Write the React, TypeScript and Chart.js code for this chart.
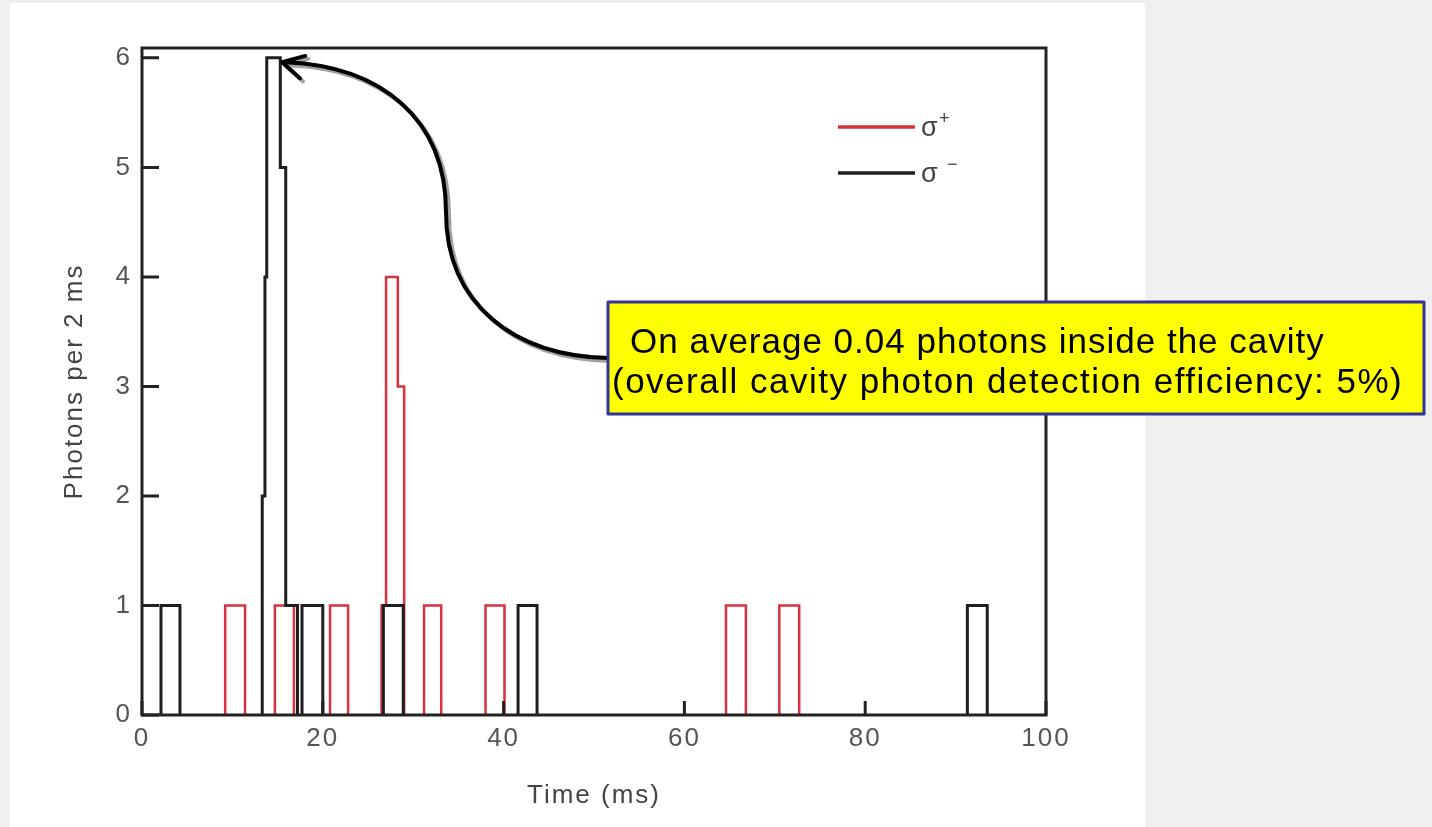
import React, { useEffect, useRef } from 'react';
import { Chart, registerables } from 'chart.js';

Chart.register(...registerables);

// ---------- data ----------
const xTickValues = [0, 20, 40, 60, 80, 100];
const yTickValues = [0, 1, 2, 3, 4, 5, 6];

// sigma+ (red) histogram bins: start (ms), end (ms), photon count
const sigmaPlusStart = [9.2, 14.7, 20.8, 26.5, 27.0, 28.3, 31.2, 38.0, 64.6, 70.5];
const sigmaPlusEnd = [11.4, 16.8, 22.8, 27.0, 28.3, 29.0, 33.1, 40.1, 66.8, 72.7];
const sigmaPlusCount = [1, 1, 1, 1, 4, 3, 1, 1, 1, 1];

// sigma- (black) histogram bins
const sigmaMinusStart = [2.1, 13.3, 13.6, 13.8, 15.3, 15.9, 17.7, 26.7, 41.6, 91.3];
const sigmaMinusEnd = [4.2, 13.6, 13.8, 15.3, 15.9, 17.2, 20.0, 28.9, 43.7, 93.5];
const sigmaMinusCount = [1, 2, 4, 6, 5, 1, 1, 1, 1, 1];

const seriesNames = ['σ+', 'σ−'];
const xTitle = 'Time (ms)';
const yTitle = 'Photons per 2 ms';
const noteLines = [
  'On average 0.04 photons inside the cavity',
  '(overall cavity photon detection efficiency: 5%)',
];
// arrow tip points at the top of the sigma- peak
const arrowTarget = { x: 15.5, y: 5.96 };

const RED = '#d8323e';
const BLACK = '#1e1e1e';
const FONT = '"Liberation Sans", Arial, Helvetica, sans-serif';

function buildSteps(starts: number[], ends: number[], counts: number[]) {
  const pts: { x: number; y: number | null }[] = [];
  for (let i = 0; i < starts.length; i++) {
    const contiguous = i > 0 && Math.abs(starts[i] - ends[i - 1]) < 1e-6;
    if (!contiguous) {
      if (i > 0) {
        pts.push({ x: ends[i - 1], y: 0 });
        pts.push({ x: (ends[i - 1] + starts[i]) / 2, y: null });
      }
      pts.push({ x: starts[i], y: 0 });
    }
    pts.push({ x: starts[i], y: counts[i] });
    pts.push({ x: ends[i], y: counts[i] });
  }
  pts.push({ x: ends[ends.length - 1], y: 0 });
  return pts;
}

const backgroundPlugin = {
  id: 'bg',
  beforeDraw(chart: any) {
    const ctx = chart.ctx as CanvasRenderingContext2D;
    ctx.save();
    ctx.fillStyle = '#efefef';
    ctx.fillRect(0, 0, chart.width, chart.height);
    ctx.fillStyle = '#ffffff';
    ctx.fillRect(10, 3, 1135, chart.height - 3);
    ctx.restore();
    (ctx as any).letterSpacing = '2px';
  },
};

const framePlugin = {
  id: 'frame',
  afterDatasetsDraw(chart: any) {
    const ctx = chart.ctx as CanvasRenderingContext2D;
    const { left, right, top, bottom } = chart.chartArea;
    const xs = chart.scales.x;
    const ys = chart.scales.y;
    ctx.save();
    ctx.strokeStyle = '#222';
    ctx.lineWidth = 3;
    ctx.lineJoin = 'miter';
    ctx.strokeRect(left, top, right - left, bottom - top);
    ctx.beginPath();
    yTickValues.forEach((v) => {
      const y = ys.getPixelForValue(v);
      ctx.moveTo(left, y);
      ctx.lineTo(left + 17, y);
    });
    xTickValues.forEach((v) => {
      const x = xs.getPixelForValue(v);
      ctx.moveTo(x, bottom);
      ctx.lineTo(x, bottom - 14);
    });
    ctx.stroke();
    ctx.restore();
  },
};

const legendPlugin = {
  id: 'customLegend',
  afterDraw(chart: any) {
    const ctx = chart.ctx as CanvasRenderingContext2D;
    const { right, top } = chart.chartArea;
    const x0 = right - 208;
    const x1 = right - 131;
    const rows = [
      { y: top + 79, color: RED, sup: seriesNames[0].slice(1) },
      { y: top + 125, color: BLACK, sup: seriesNames[1].slice(1) },
    ];
    ctx.save();
    (ctx as any).letterSpacing = '0px';
    rows.forEach((r) => {
      ctx.strokeStyle = r.color;
      ctx.lineWidth = 3.5;
      ctx.beginPath();
      ctx.moveTo(x0, r.y);
      ctx.lineTo(x1, r.y);
      ctx.stroke();
      ctx.fillStyle = '#444';
      ctx.textBaseline = 'alphabetic';
      ctx.textAlign = 'left';
      ctx.font = `27px ${FONT}`;
      ctx.fillText('σ', x1 + 6, r.y + 9);
      ctx.font = `18px ${FONT}`;
      ctx.fillText(r.sup, x1 + 24 + (r.sup === '+' ? 0 : 8), r.y - 3);
    });
    ctx.restore();
  },
};

const annotationPlugin = {
  id: 'note',
  afterDraw(chart: any) {
    const ctx = chart.ctx as CanvasRenderingContext2D;
    const xs = chart.scales.x;
    const ys = chart.scales.y;
    const tipX = xs.getPixelForValue(arrowTarget.x);
    const tipY = ys.getPixelForValue(arrowTarget.y);
    const box = { x: 608, y: 302, w: 816, h: 112 };
    const startX = box.x;
    const startY = 358;

    const drawArrow = (dx: number, dy: number, color: string) => {
      ctx.strokeStyle = color;
      ctx.lineWidth = 4;
      ctx.lineCap = 'round';
      ctx.lineJoin = 'round';
      ctx.beginPath();
      ctx.moveTo(startX + dx, startY + dy);
      ctx.bezierCurveTo(515 + dx, 356 + dy, 446 + dx, 305 + dy, 446 + dx, 212 + dy);
      ctx.bezierCurveTo(446 + dx, 118 + dy, 380 + dx, 66 + dy, tipX + 4 + dx, tipY + dy);
      ctx.stroke();
      const ang = Math.atan2(5, 21);
      const len = 24;
      ctx.beginPath();
      ctx.moveTo(tipX + len * Math.cos(ang - 0.5) + dx, tipY + len * Math.sin(ang - 0.5) + dy);
      ctx.lineTo(tipX + dx, tipY + dy);
      ctx.lineTo(tipX + len * Math.cos(ang + 0.5) + dx, tipY + len * Math.sin(ang + 0.5) + dy);
      ctx.stroke();
    };

    ctx.save();
    drawArrow(3, 3, '#a0a0a0');
    drawArrow(0, 0, '#000000');

    ctx.fillStyle = '#ffff00';
    ctx.fillRect(box.x, box.y, box.w, box.h);
    ctx.strokeStyle = '#333399';
    ctx.lineWidth = 3;
    ctx.strokeRect(box.x, box.y, box.w, box.h);

    ctx.fillStyle = '#000';
    ctx.font = `35px ${FONT}`;
    ctx.textAlign = 'left';
    ctx.textBaseline = 'alphabetic';
    (ctx as any).letterSpacing = '1px';
    ctx.fillText(noteLines[0], box.x + 22, box.y + 51);
    (ctx as any).letterSpacing = '1.5px';
    ctx.fillText(noteLines[1], box.x + 4, box.y + 91);
    ctx.restore();
  },
};

export default function App() {
  const ref = useRef<HTMLCanvasElement>(null);

  useEffect(() => {
    document.body.style.margin = '0';
    const plus = buildSteps(sigmaPlusStart, sigmaPlusEnd, sigmaPlusCount);
    const minus = buildSteps(sigmaMinusStart, sigmaMinusEnd, sigmaMinusCount);

    const chart = new Chart(ref.current!, {
      type: 'line',
      data: {
        datasets: [
          {
            label: seriesNames[1],
            data: minus as any,
            borderColor: BLACK,
            borderWidth: 3,
            pointRadius: 0,
            tension: 0,
            spanGaps: false,
            borderJoinStyle: 'miter',
            fill: false,
          },
          {
            label: seriesNames[0],
            data: plus as any,
            borderColor: RED,
            borderWidth: 2.5,
            pointRadius: 0,
            tension: 0,
            spanGaps: false,
            borderJoinStyle: 'miter',
            fill: false,
          },
        ],
      },
      options: {
        animation: false,
        responsive: true,
        maintainAspectRatio: false,
        parsing: false as any,
        normalized: true,
        layout: { padding: { left: 0, right: 386, top: 48, bottom: 0 } },
        plugins: {
          legend: { display: false },
          tooltip: { enabled: false },
        },
        scales: {
          x: {
            type: 'linear',
            min: 0,
            max: 100,
            grid: { display: false, drawTicks: false },
            border: { display: false },
            afterBuildTicks: (s: any) => {
              s.ticks = xTickValues.map((v) => ({ value: v }));
            },
            afterFit: (s: any) => {
              s.height = 112;
            },
            ticks: {
              color: '#555',
              font: { size: 26, family: FONT },
              padding: 8,
              maxRotation: 0,
              autoSkip: false,
            },
            title: {
              display: true,
              text: xTitle,
              color: '#444',
              font: { size: 26, family: FONT },
              padding: { top: 0, bottom: 16 },
            },
          },
          y: {
            type: 'linear',
            min: 0,
            max: 6.09,
            grid: { display: false, drawTicks: false },
            border: { display: false },
            afterBuildTicks: (s: any) => {
              s.ticks = yTickValues.map((v) => ({ value: v }));
            },
            afterFit: (s: any) => {
              s.width = 142;
            },
            ticks: {
              color: '#555',
              font: { size: 26, family: FONT },
              padding: 10,
              autoSkip: false,
            },
            title: {
              display: true,
              text: yTitle,
              color: '#444',
              font: { size: 26, family: FONT },
              padding: { top: 59, bottom: 0 },
            },
          },
        },
      },
      plugins: [backgroundPlugin, framePlugin, legendPlugin, annotationPlugin],
    });
    return () => chart.destroy();
  }, []);

  return (
    <div style={{ position: 'fixed', left: 0, top: 0, width: 1432, height: 827 }}>
      <canvas ref={ref} />
    </div>
  );
}
